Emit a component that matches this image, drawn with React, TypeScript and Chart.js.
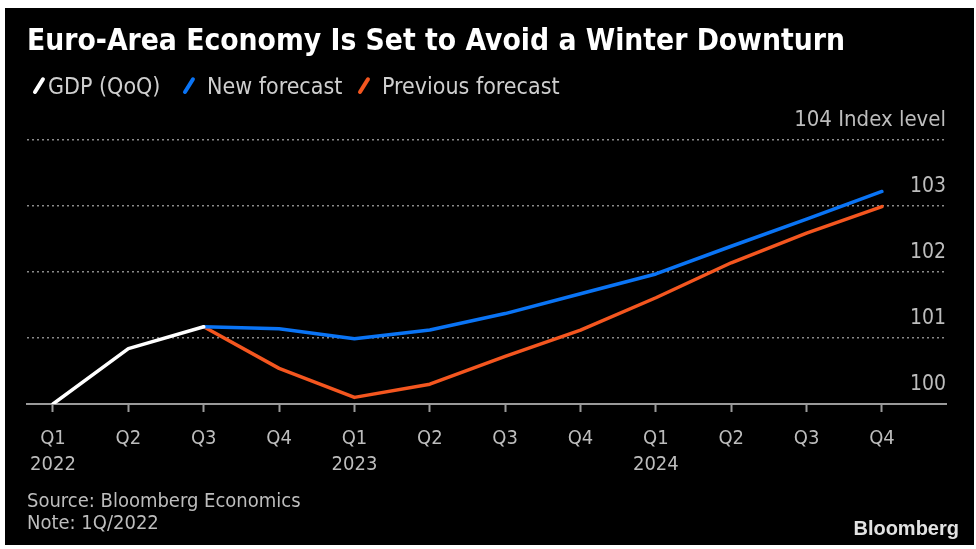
import React, { useEffect, useRef } from "react";
import { Chart, registerables } from "chart.js";

Chart.register(...registerables);

// ---- data ----
const quarters = ["Q1", "Q2", "Q3", "Q4", "Q1", "Q2", "Q3", "Q4", "Q1", "Q2", "Q3", "Q4"];
const years = ["2022", "", "", "", "2023", "", "", "", "2024", "", "", ""];
const gdp: (number | null)[] = [100, 100.84, 101.17, null, null, null, null, null, null, null, null, null];
const newForecast: (number | null)[] = [null, null, 101.17, 101.14, 100.99, 101.12, 101.37, 101.67, 101.97, 102.39, 102.8, 103.22];
const prevForecast: (number | null)[] = [null, null, 101.17, 100.54, 100.1, 100.3, 100.72, 101.12, 101.61, 102.14, 102.59, 102.99];
const yMin = 100;
const yMax = 104;
const yUnit = "Index level";

const title = "Euro-Area Economy Is Set to Avoid a Winter Downturn";
const seriesNames = ["GDP (QoQ)", "New forecast", "Previous forecast"];
const seriesColors = ["#ffffff", "#0a74f5", "#f4561f"];
const sourceText = "Source: Bloomberg Economics";
const noteText = "Note: 1Q/2022";

const FONT = "'DejaVu Sans Condensed', 'DejaVu Sans', sans-serif";

const toXY = (arr: (number | null)[]) =>
  arr.map((v, i) => (v == null ? null : { x: i, y: v })).filter((p) => p !== null) as { x: number; y: number }[];

function ChartCanvas() {
  const ref = useRef<HTMLCanvasElement | null>(null);
  useEffect(() => {
    if (!ref.current) return;
    const series = [gdp, newForecast, prevForecast];
    const chart = new Chart(ref.current, {
      type: "line",
      data: {
        datasets: series.map((s, k) => ({
          label: seriesNames[k],
          data: toXY(s),
          borderColor: seriesColors[k],
          backgroundColor: seriesColors[k],
          borderWidth: 3.5,
          pointRadius: 0,
          tension: 0,
          borderJoinStyle: "round",
          borderCapStyle: "round",
          order: k,
        })) as any,
      },
      options: {
        animation: false,
        responsive: false,
        devicePixelRatio: 1,
        layout: { padding: { left: 22, right: 28, top: 132, bottom: 53 } },
        plugins: { legend: { display: false }, tooltip: { enabled: false }, title: { display: false } },
        scales: {
          x: {
            type: "linear",
            min: -0.345,
            max: 11.85,
            grid: {
              display: true,
              drawOnChartArea: false,
              drawTicks: true,
              tickLength: 8,
              tickColor: "#9a9a9a",
              tickWidth: 2,
            },
            border: { display: true, color: "#9a9a9a", width: 2 },
            ticks: {
              stepSize: 1,
              includeBounds: false,
              autoSkip: false,
              maxRotation: 0,
              minRotation: 0,
              padding: 14,
              color: "#bdbdbd",
              font: { family: FONT, size: 20, lineHeight: 1.3 },
              callback: (v: any) => {
                const i = Math.round(Number(v));
                return years[i] ? [quarters[i], years[i]] : quarters[i];
              },
            },
          },
          y: {
            position: "right",
            min: yMin,
            max: yMax,
            grid: {
              drawTicks: false,
              lineWidth: 1.5,
              color: (ctx: any) => (ctx.tick && ctx.tick.value === yMin ? "rgba(0,0,0,0)" : "#8a8a8a"),
            },
            border: { display: false, dash: [2, 3] },
            ticks: {
              stepSize: 1,
              mirror: true,
              padding: 0,
              labelOffset: -19.5,
              color: "#bdbdbd",
              font: (ctx: any) => ({ family: FONT, size: ctx.tick && ctx.tick.value === yMax ? 22 : 21 }),
              callback: (v: any) => (Number(v) === yMax ? `${v} ${yUnit}` : String(v)),
            },
          },
        },
      } as any,
    });
    return () => chart.destroy();
  }, []);
  return <canvas ref={ref} width={969} height={537} style={{ position: "absolute", left: 0, top: 0 }} />;
}

export default function App() {
  const legendPos = [
    { slash: 33, text: 43 },
    { slash: 183, text: 202 },
    { slash: 358, text: 377 },
  ];
  return (
    <div style={{ position: "fixed", left: 0, top: 0, width: 976, height: 549, background: "#fff" }}>
      <div style={{ position: "absolute", left: 5, top: 8, width: 969, height: 537, background: "#000", overflow: "hidden" }}>
        <ChartCanvas />
        <div
          style={{
            position: "absolute",
            left: 22,
            top: 13,
            lineHeight: "38px",
            fontFamily: FONT,
            fontWeight: 700,
            fontSize: 29.7,
            color: "#fff",
            whiteSpace: "nowrap",
          }}
        >
          {title}
        </div>
        {seriesNames.map((n, k) => (
          <React.Fragment key={n}>
            <div
              style={{
                position: "absolute",
                left: legendPos[k].slash - 1.5,
                top: 68,
                width: 3.5,
                height: 19,
                borderRadius: 2,
                background: seriesColors[k],
                transform: "rotate(32deg)",
              }}
            />
            <div
              style={{
                position: "absolute",
                left: legendPos[k].text,
                top: 64,
                lineHeight: "28px",
                fontFamily: FONT,
                fontSize: 23,
                color: "#cfcfcf",
                whiteSpace: "nowrap",
              }}
            >
              {n}
            </div>
          </React.Fragment>
        ))}
        <div
          style={{
            position: "absolute",
            left: 22,
            top: 481,
            lineHeight: "22px",
            fontFamily: FONT,
            fontSize: 20,
            color: "#bdbdbd",
            whiteSpace: "nowrap",
          }}
        >
          {sourceText}
          <br />
          {noteText}
        </div>
        <div
          style={{
            position: "absolute",
            right: 15,
            top: 508,
            lineHeight: "24px",
            fontFamily: "'Liberation Sans', Arial, sans-serif",
            fontWeight: 700,
            fontSize: 20,
            color: "#e2e2e2",
            whiteSpace: "nowrap",
          }}
        >
          Bloomberg
        </div>
      </div>
    </div>
  );
}
